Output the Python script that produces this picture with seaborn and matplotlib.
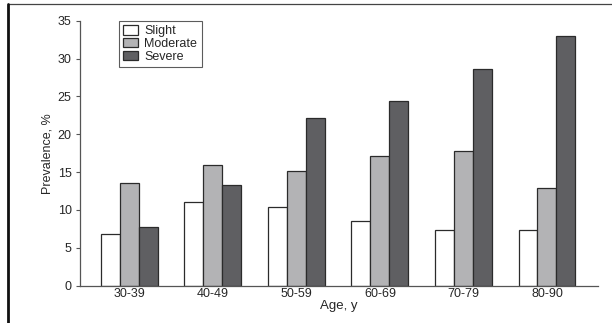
import numpy as np
import pandas as pd
import matplotlib
matplotlib.use("Agg")
import matplotlib.pyplot as plt
from matplotlib.lines import Line2D
from matplotlib import font_manager
import seaborn as sns

# data
ages = ["30-39", "40-49", "50-59", "60-69", "70-79", "80-90"]
severity = ["Slight", "Moderate", "Severe"]
slight = [6.8, 11.1, 10.4, 8.5, 7.4, 7.4]
moderate = [13.5, 16.0, 15.1, 17.1, 17.8, 12.9]
severe = [7.7, 13.3, 22.2, 24.4, 28.6, 33.0]

df = pd.DataFrame({
    "Age": ages * 3,
    "Severity": np.repeat(severity, len(ages)),
    "Prevalence": slight + moderate + severe,
})

sns.set_theme(style="ticks")
plt.rcParams["font.family"] = ["Liberation Sans", "DejaVu Sans"]
names = {f.name for f in font_manager.fontManager.ttflist}
if "Liberation Sans Narrow" in names:
    narrow, ylab_size = "Liberation Sans Narrow", 10.5
else:
    narrow, ylab_size = "Liberation Sans", 9

fig = plt.figure(figsize=(6.12, 3.23), dpi=100)
ax = fig.add_axes([0.1307, 0.1155, 0.8463, 0.8205])

colors = ["#ffffff", "#b3b3b5", "#5f5f62"]
sns.barplot(data=df, x="Age", y="Prevalence", hue="Severity", hue_order=severity,
            palette=colors, width=0.68, gap=0, edgecolor="#2b2b2b", linewidth=0.9,
            saturation=1, ax=ax)

ax.set_ylim(0, 35)
ax.set_yticks(range(0, 36, 5))
ax.set_xlim(-0.59, 5.61)
sns.despine(ax=ax)
for s in ["left", "bottom"]:
    ax.spines[s].set_color("#555555")
    ax.spines[s].set_linewidth(0.9)
ax.tick_params(axis="both", labelsize=9, length=3, width=0.8, color="#555555", pad=3)
ax.tick_params(axis="x", length=0, pad=2)
ax.set_xlabel("Age, y", fontsize=9.5, labelpad=0)
ax.set_ylabel("Prevalence, %", fontsize=ylab_size, family=narrow, labelpad=3)

leg = ax.legend(loc="upper left", bbox_to_anchor=(0.075, 1.0), borderaxespad=0,
                fontsize=9, frameon=True, fancybox=False, handlelength=1.2,
                handleheight=0.8, handletextpad=0.5, labelspacing=0.05,
                borderpad=0.35)
leg.get_frame().set_edgecolor("#333333")
leg.get_frame().set_linewidth(0.8)

# page frame lines from the scan
fig.add_artist(Line2D([0.0136, 1.0], [0.9876, 0.9876], color="#444444", lw=0.9))
fig.add_artist(Line2D([0.0136, 0.0136], [0.0, 0.9876], color="#111111", lw=2.0))

fig.savefig("out.png", dpi=100)
